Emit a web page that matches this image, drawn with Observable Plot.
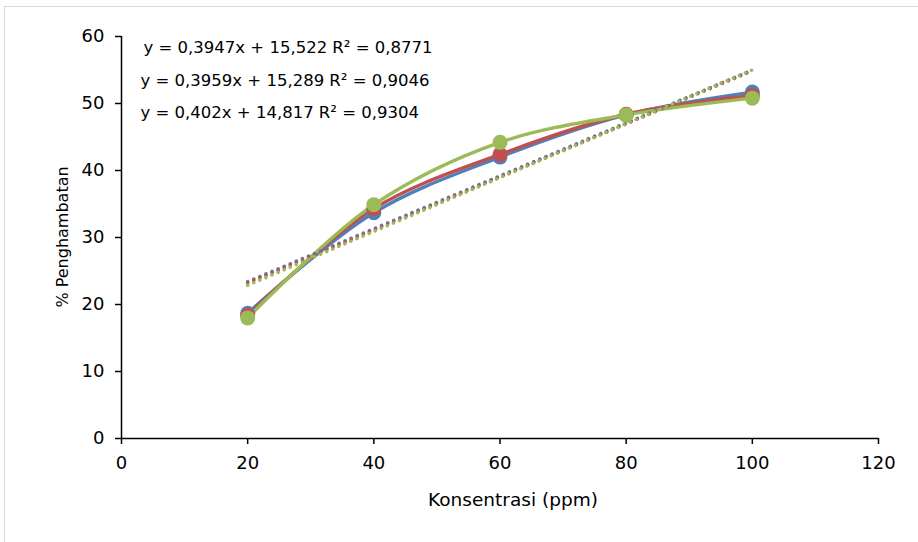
<!DOCTYPE html>
<html>
<head>
<meta charset="utf-8">
<script src="https://cdn.jsdelivr.net/npm/d3@7"></script>
<script src="https://cdn.jsdelivr.net/npm/@observablehq/plot@0.6"></script>
<style>
  html, body { margin: 0; padding: 0; background: #fff; overflow: hidden; }
  #frame { position: absolute; left: 4px; top: 6px; width: 2000px; height: 2000px; border: 1px solid #d9d9d9; pointer-events: none; }
  #chart { position: absolute; left: 0; top: 0; }
</style>
</head>
<body>
<div id="frame"></div>
<div id="chart"></div>
<script>
const concentrations = [20, 40, 60, 80, 100];
const seriesNames = ["Seri 1", "Seri 2", "Seri 3"];
const seriesColors = ["#4F81BD", "#C0504D", "#9BBB59"];
const series1Values = [18.7, 33.7, 42.0, 48.3, 51.7];
const series2Values = [18.4, 34.3, 42.4, 48.4, 51.2];
const series3Values = [18.0, 34.9, 44.2, 48.3, 50.8];
const slopes = [0.3947, 0.3959, 0.402];
const intercepts = [15.522, 15.289, 14.817];
const equationLabels = [
  "y = 0,3947x + 15,522 R² = 0,8771",
  "y = 0,3959x + 15,289 R² = 0,9046",
  "y = 0,402x + 14,817 R² = 0,9304"
];
const xTicks = [0, 20, 40, 60, 80, 100, 120];
const yTicks = [0, 10, 20, 30, 40, 50, 60];

const allValues = [series1Values, series2Values, series3Values];
const points = [];
allValues.forEach((vals, s) => {
  concentrations.forEach((c, i) => points.push({series: seriesNames[s], x: c, y: vals[i]}));
});
const trend = [];
seriesNames.forEach((name, s) => {
  [concentrations[0], concentrations[concentrations.length - 1]].forEach(c =>
    trend.push({series: name, x: c, y: slopes[s] * c + intercepts[s]}));
});
const eqRows = equationLabels.map((t, i) => ({t, i}));
const eqDx = [22, 19, 19];
const eqDy = [16, 49, 81];

const plot = Plot.plot({
  width: 918,
  height: 542,
  marginLeft: 121,
  marginRight: 40,
  marginTop: 36,
  marginBottom: 104,
  style: {fontFamily: "DejaVu Sans", fontSize: "16px", color: "#000", background: "transparent"},
  x: {domain: [0, 120], ticks: xTicks, label: null},
  y: {domain: [0, 60], ticks: yTicks, label: null},
  color: {domain: seriesNames, range: seriesColors},
  marks: [
    Plot.axisX({ticks: xTicks, tickSize: 6, tickPadding: 12, fontSize: 18, label: null, stroke: "#000", strokeWidth: 1.5}),
    Plot.axisY({ticks: yTicks, tickSize: 6, tickPadding: 11, fontSize: 18, label: null, stroke: "#000", strokeWidth: 1.5}),
    Plot.ruleY([0], {stroke: "#000", strokeWidth: 1.5}),
    Plot.ruleX([0], {stroke: "#000", strokeWidth: 1.5}),
    Plot.line(points, {x: "x", y: "y", z: "series", stroke: "series", strokeWidth: 3.4, curve: "catmull-rom"}),
    Plot.line(trend, {x: "x", y: "y", z: "series", stroke: "series", strokeWidth: 3.5, strokeDasharray: "0.1 6.5", strokeLinecap: "round"}),
    Plot.dot(points, {x: "x", y: "y", fill: "series", r: 7.5}),
    Plot.text(eqRows, {frameAnchor: "top-left", text: "t", textAnchor: "start", fontSize: 16.5, fill: "#000"})
  ]
});
document.getElementById("chart").appendChild(plot);

// position equation labels row by row
const texts = plot.querySelectorAll("g[aria-label='text'] text");
texts.forEach((el, i) => {
  el.setAttribute("transform", `translate(${121 + eqDx[i]},${36 + eqDy[i]})`);
  el.removeAttribute("x"); el.removeAttribute("y");
});

// axis titles as real text in the svg
const ns = "http://www.w3.org/2000/svg";
const xt = document.createElementNS(ns, "text");
xt.textContent = "Konsentrasi (ppm)";
xt.setAttribute("x", 513); xt.setAttribute("y", 506);
xt.setAttribute("text-anchor", "middle"); xt.setAttribute("font-size", 18.5);
xt.setAttribute("font-family", "DejaVu Sans");
plot.appendChild(xt);
const yt = document.createElementNS(ns, "text");
yt.textContent = "% Penghambatan";
yt.setAttribute("transform", "translate(68,237) rotate(-90)");
yt.setAttribute("text-anchor", "middle"); yt.setAttribute("font-size", 16);
yt.setAttribute("font-family", "DejaVu Sans");
plot.appendChild(yt);
</script>
</body>
</html>
